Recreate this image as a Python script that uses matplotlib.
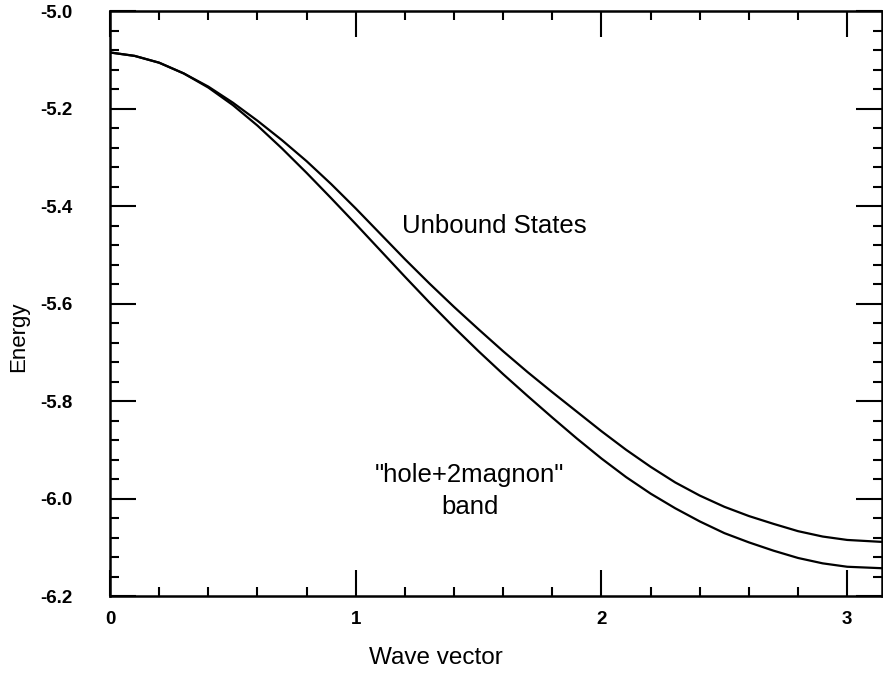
import numpy as np
import matplotlib
matplotlib.use("Agg")
import matplotlib.pyplot as plt
from matplotlib.ticker import MultipleLocator, FormatStrFormatter

plt.rcParams['font.family'] = ['Liberation Sans', 'DejaVu Sans']

# wave vector samples (0 .. pi)
k = [0.0, 0.1, 0.2, 0.3, 0.4, 0.5, 0.6, 0.7, 0.8, 0.9, 1.0,
     1.1, 1.2, 1.3, 1.4, 1.5, 1.6, 1.7, 1.8, 1.9, 2.0,
     2.1, 2.2, 2.3, 2.4, 2.5, 2.6, 2.7, 2.8, 2.9, 3.0, np.pi]

# lower edge of the unbound states continuum
e_unbound = [-5.085, -5.092, -5.106, -5.128, -5.155, -5.188, -5.225, -5.265,
             -5.308, -5.355, -5.405, -5.457, -5.509, -5.559, -5.607, -5.653,
             -5.698, -5.741, -5.782, -5.822, -5.862, -5.900, -5.935, -5.967,
             -5.994, -6.017, -6.036, -6.052, -6.067, -6.078, -6.085, -6.089]

# "hole+2magnon" band
e_band = [-5.085, -5.092, -5.106, -5.128, -5.157, -5.193, -5.235, -5.282,
          -5.332, -5.384, -5.437, -5.491, -5.545, -5.598, -5.649, -5.698,
          -5.745, -5.790, -5.834, -5.877, -5.918, -5.956, -5.990, -6.020,
          -6.047, -6.071, -6.090, -6.107, -6.122, -6.133, -6.140, -6.143]

fig = plt.figure(figsize=(8.83, 6.73), dpi=100)
ax = fig.add_axes([0.1246, 0.1144, 0.8743, 0.8692])

ax.plot(k, e_unbound, color='black', lw=1.6)
ax.plot(k, e_band, color='black', lw=1.6)

ax.set_xlim(0, np.pi)
ax.set_ylim(-6.2, -5.0)

ax.xaxis.set_major_locator(MultipleLocator(1))
ax.xaxis.set_minor_locator(MultipleLocator(0.2))
ax.yaxis.set_major_locator(MultipleLocator(0.2))
ax.yaxis.set_minor_locator(MultipleLocator(0.04))
ax.yaxis.set_major_formatter(FormatStrFormatter('%.1f'))

ax.tick_params(which='both', direction='in', top=True, right=True, width=1.5, color='black')
ax.tick_params(which='major', length=18.5, labelsize=13.5)
ax.tick_params(which='minor', length=6.5)
ax.tick_params(axis='y', which='major', pad=27)
ax.tick_params(axis='x', which='major', pad=11)
for lab in ax.get_xticklabels() + ax.get_yticklabels():
    lab.set_fontweight('bold')

for sp in ax.spines.values():
    sp.set_linewidth(1.8)

ax.set_xlabel('Wave vector', fontsize=17.5, va='center')
ax.xaxis.set_label_coords(0.422, -0.106)
ax.set_ylabel('Energy', fontsize=16, va='center')
ax.yaxis.set_label_coords(-0.119, 0.444)

ax.text(1.565, -5.44, 'Unbound States', fontsize=18.5, ha='center', va='center')
ax.text(1.463, -5.985, '"hole+2magnon"\nband', fontsize=18.5, ha='center',
        va='center', linespacing=1.42)

fig.savefig('out.png', dpi=100)
